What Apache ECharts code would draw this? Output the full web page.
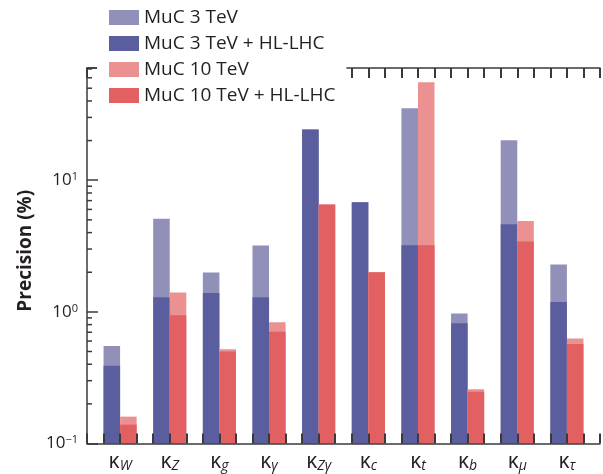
<!DOCTYPE html>
<html><head><meta charset="utf-8">
<script src="https://cdn.jsdelivr.net/npm/echarts@6/dist/echarts.min.js"></script>
<style>html,body{margin:0;padding:0;background:#fff}#c{width:603px;height:474px}</style>
</head><body><div id="c"></div>
<script>
const categories = ['W', 'Z', 'g', 'γ', 'Zγ', 'c', 't', 'b', 'μ', 'τ'];
const muc3 = [0.55, 5.1, 1.99, 3.19, 24.3, 6.8, 35.2, 0.97, 20.1, 2.29];
const muc3HL = [0.39, 1.29, 1.39, 1.29, 24.3, 6.8, 3.2, 0.82, 4.63, 1.19];
const muc10 = [0.16, 1.40, 0.52, 0.835, 6.54, 2.0, 55.5, 0.258, 4.91, 0.628];
const muc10HL = [0.139, 0.944, 0.50, 0.705, 6.54, 2.0, 3.2, 0.247, 3.42, 0.571];
const yMinorTicks = [0.2,0.3,0.4,0.5,0.6,0.7,0.8,0.9,2,3,4,5,6,7,8,9,20,30,40,50,60,70];
const seriesNames = ['MuC 3 TeV', 'MuC 3 TeV + HL-LHC', 'MuC 10 TeV', 'MuC 10 TeV + HL-LHC'];

const Y_MIN = 0.1, Y_MAX = 71.2;
const SLOTS = 31; // 3 slots per category (gap, blue, red)
const FONT = 'Open Sans';
const AX = '#3a3a3a';

const chart = echarts.init(document.getElementById('c'), null, {renderer: 'canvas'});

function barRender(offset) {
  return function (params, api) {
    const i = api.value(0), v = api.value(1);
    const x0 = 3 * i + offset;
    const p0 = api.coord([x0, v]);
    const p1 = api.coord([x0 + 1, Y_MIN]);
    return {type: 'rect', shape: {x: p0[0], y: p0[1], width: p1[0] - p0[0], height: p1[1] - p0[1]},
      style: {fill: api.visual('color')}};
  };
}
function mkBar(name, arr, offset, color) {
  return {name, type: 'custom', xAxisIndex: 0, yAxisIndex: 0, clip: false, z: 2,
    itemStyle: {color}, renderItem: barRender(offset),
    data: arr.map((v, i) => [i, v])};
}

const sup = {'-1': '−1', '0': '0', '1': '1'};
const option = {
  animation: false,
  backgroundColor: '#fff',
  textStyle: {fontFamily: FONT},
  grid: {left: 87, top: 68, width: SLOTS * 17.0, height: 375.5},
  legend: {
    data: seriesNames, orient: 'vertical', left: 97, top: 0, z: 10,
    backgroundColor: '#fff', padding: [8, 11, 6, 12],
    icon: 'rect', itemWidth: 30, itemHeight: 15, itemGap: 7,
    textStyle: {fontSize: 19, color: '#231f20', fontFamily: FONT, lineHeight: 19},
    selectedMode: false
  },
  xAxis: [
    {type: 'value', min: 0, max: SLOTS, interval: 1, position: 'bottom', z: 3,
      axisLine: {show: true, onZero: false, lineStyle: {color: AX, width: 1.5}},
      axisTick: {show: true, inside: true, length: 10, lineStyle: {color: AX, width: 2}},
      splitLine: {show: false},
      axisLabel: {
        margin: 8, interval: 0,
        formatter: function (v) {
          const r = Math.round(v);
          if (r % 3 === 2) { const c = categories[(r - 2) / 3]; return c ? '{k|κ}{s|' + c + '}' : ''; }
          return '';
        },
        rich: {
          k: {fontSize: 21, fontFamily: FONT, color: '#231f20', lineHeight: 22},
          s: {fontSize: 14, fontFamily: FONT, fontStyle: 'italic', color: '#231f20', verticalAlign: 'bottom', lineHeight: 14, padding: [12, 0, 0, 0]}
        }
      }
    },
    {type: 'value', min: 0, max: SLOTS, interval: 1, position: 'top', z: 3,
      axisLine: {show: true, onZero: false, lineStyle: {color: AX, width: 1.5}},
      axisTick: {show: true, inside: true, length: 10, lineStyle: {color: AX, width: 2}},
      splitLine: {show: false}, axisLabel: {show: false}
    }
  ],
  yAxis: {
    type: 'log', logBase: 10, min: Y_MIN, max: Y_MAX, z: 3,
    name: 'Precision (%)', nameLocation: 'middle', nameGap: 50, nameRotate: 90,
    nameTextStyle: {fontSize: 19, fontWeight: 'bold', color: '#231f20', fontFamily: FONT, padding: [0, 0, 0, 10]},
    axisLine: {show: true, lineStyle: {color: AX, width: 1.5}},
    axisTick: {show: true, inside: true, length: 11, lineStyle: {color: AX, width: 1.5}},
    splitLine: {show: false},
    axisLabel: {
      margin: 9,
      formatter: function (v) {
        const e = Math.log10(v);
        const r = Math.round(e);
        if (Math.abs(e - r) > 1e-6) return '';
        return '{b|10}{p|' + sup[String(r)] + '}';
      },
      rich: {
        b: {fontSize: 17, fontFamily: FONT, color: '#231f20', lineHeight: 18},
        p: {fontSize: 11, fontFamily: FONT, color: '#231f20', verticalAlign: 'top', lineHeight: 11}
      }
    }
  },
  series: [
    mkBar(seriesNames[0], muc3, 1, '#9090b9'),
    mkBar(seriesNames[1], muc3HL, 1, '#5b5e9e'),
    mkBar(seriesNames[2], muc10, 2, '#eb9191'),
    mkBar(seriesNames[3], muc10HL, 2, '#e25f62'),
    {name: 'minor', type: 'custom', clip: false, z: 3, silent: true,
      data: yMinorTicks.map(v => [0, v]),
      renderItem: function (params, api) {
        const p = api.coord([0, api.value(1)]);
        return {type: 'line', shape: {x1: p[0], y1: p[1], x2: p[0] + 5, y2: p[1]},
          style: {stroke: AX, lineWidth: 1.5}};
      }
    }
  ]
};
chart.setOption(option);
</script></body></html>
